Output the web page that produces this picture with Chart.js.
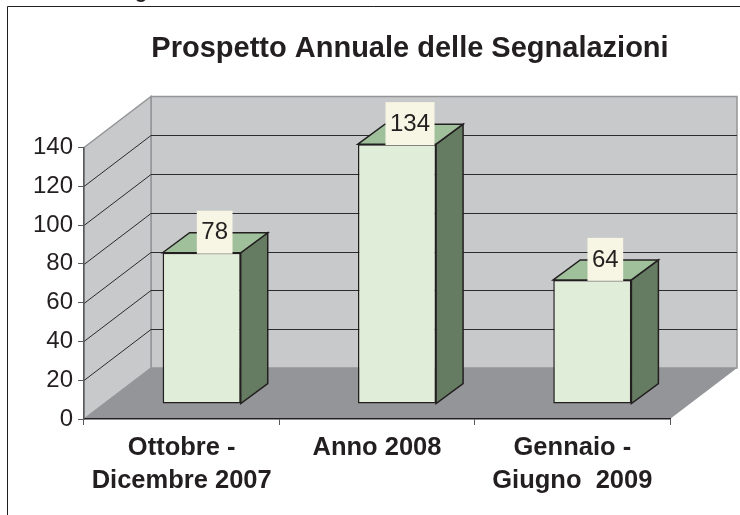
<!DOCTYPE html>
<html>
<head>
<meta charset="utf-8">
<style>
  html, body { margin: 0; padding: 0; background: #fff; }
  #wrap { width: 740px; height: 515px; }
</style>
<script src="https://cdn.jsdelivr.net/npm/chart.js@4"></script>
</head>
<body>
<div id="wrap"><canvas id="chart" width="740" height="515"></canvas></div>
<script>
const categories = [['Ottobre -', 'Dicembre 2007'], 'Anno 2008', ['Gennaio -', 'Giugno  2009']];
const values = [78, 134, 64];
const tickValues = [0, 20, 40, 60, 80, 100, 120, 140];

const ink = '#231f20';
const wallColor = '#c8c9cb';
const wallEdge = '#939598';
const floorColor = '#949598';
const barFront = '#e0eed9';
const barTop = '#a0c09c';
const barSide = '#657c62';
const labelBox = '#f7f5e3';

// wall depth and how far the bars sit in front of the back wall
const depth = { x: 67, y: 51 };
const barShift = { x: 20, y: 15 };
const barDepth = { x: 27, y: 20 };

function poly(ctx, pts, fill, stroke, width) {
    ctx.beginPath();
    pts.forEach((p, i) => i ? ctx.lineTo(p[0], p[1]) : ctx.moveTo(p[0], p[1]));
    ctx.closePath();
    if (fill) { ctx.fillStyle = fill; ctx.fill(); }
    if (stroke) { ctx.strokeStyle = stroke; ctx.lineWidth = width; ctx.lineJoin = 'miter'; ctx.stroke(); }
}

const box3d = {
    id: 'box3d',
    afterLayout(chart) {
        // title is centred over the back wall, not over the canvas
        chart.titleBlock.left = 150;
        chart.titleBlock.right = 670;
    },
    beforeDraw(chart) {
        const { ctx, chartArea: a, scales: { y } } = chart;
        const dx = depth.x, dy = depth.y;
        ctx.save();
        ctx.fillStyle = '#fff';
        ctx.fillRect(0, 0, chart.width, chart.height);

        // outer frame, cut off by the right and bottom of the picture
        ctx.strokeStyle = ink;
        ctx.lineWidth = 1;
        ctx.beginPath();
        ctx.moveTo(7.5, chart.height);
        ctx.lineTo(7.5, 6.5);
        ctx.lineTo(chart.width, 6.5);
        ctx.stroke();

        // tail of a heading cut off by the top of the picture
        ctx.fillStyle = ink;
        ctx.font = 'bold 20px "Liberation Sans"';
        ctx.textAlign = 'center';
        ctx.fillText('g', 141, -2);

        const l = a.left, r = a.right, t = a.top, b = a.bottom;
        poly(ctx, [[l + dx, t - dy], [r + dx, t - dy], [r + dx, b - dy], [l + dx, b - dy]], wallColor, wallEdge, 1.5);
        poly(ctx, [[l, t], [l + dx, t - dy], [l + dx, b - dy], [l, b]], wallColor, wallEdge, 1.5);
        poly(ctx, [[l, b], [l + dx, b - dy], [r + dx, b - dy], [r, b]], floorColor);

        ctx.strokeStyle = '#2b2b2d';
        ctx.lineWidth = 1;
        tickValues.forEach(v => {
            if (v === 0 || v === 140) return;
            const py = Math.round(y.getPixelForValue(v)) + 0.5;
            ctx.beginPath();
            ctx.moveTo(l, py);
            ctx.lineTo(l + dx, py - dy);
            ctx.lineTo(r + dx, py - dy);
            ctx.stroke();
        });
        ctx.restore();
    },
    beforeDatasetDraw(chart) {
        chart.ctx.save();
        chart.ctx.translate(barShift.x, -barShift.y);
    },
    afterDatasetDraw(chart, args) {
        const ctx = chart.ctx;
        args.meta.data.forEach(bar => {
            const p = bar.getProps(['x', 'y', 'base', 'width'], true);
            const x1 = p.x + p.width / 2, x0 = p.x - p.width / 2;
            const ddx = barDepth.x, ddy = barDepth.y;
            poly(ctx, [[x1, p.y], [x1 + ddx, p.y - ddy], [x1 + ddx, p.base - ddy], [x1, p.base]], barSide, ink, 1.5);
            poly(ctx, [[x0, p.y], [x0 + ddx, p.y - ddy], [x1 + ddx, p.y - ddy], [x1, p.y]], barTop, ink, 1.5);
        });
        ctx.restore();

        // value labels on a pale box over the top of each bar
        ctx.save();
        ctx.font = '24px "Liberation Sans"';
        ctx.textAlign = 'center';
        ctx.textBaseline = 'middle';
        args.meta.data.forEach((bar, i) => {
            const p = bar.getProps(['x', 'y'], true);
            const cx = p.x + barShift.x + 13, top = p.y - barShift.y;
            const text = String(values[i]);
            const w = ctx.measureText(text).width + 9;
            ctx.fillStyle = labelBox;
            ctx.fillRect(cx - w / 2, top - 42, w, 43);
            ctx.fillStyle = ink;
            ctx.fillText(text, cx, top - 20);
        });
        ctx.restore();
    }
};

new Chart(document.getElementById('chart'), {
    type: 'bar',
    data: {
        labels: categories,
        datasets: [{
            data: values,
            backgroundColor: barFront,
            borderColor: ink,
            borderWidth: 1.5,
            borderSkipped: false,
            barPercentage: 0.4,
            categoryPercentage: 1
        }]
    },
    options: {
        responsive: false,
        animation: false,
        layout: { padding: { left: 0, right: 70, top: 0, bottom: 0 } },
        plugins: {
            legend: { display: false },
            tooltip: { enabled: false },
            title: {
                display: true,
                text: 'Prospetto Annuale delle Segnalazioni',
                color: ink,
                font: { family: '"Liberation Sans"', size: 29, weight: 'bold', lineHeight: 1.2 },
                padding: { top: 32, bottom: 80.7 }
            }
        },
        scales: {
            x: {
                offset: true,
                afterFit(scale) { scale.height = 96; },
                grid: { drawOnChartArea: false, tickLength: 6, tickColor: '#58595b', offset: true },
                border: { color: ink, width: 1.5 },
                ticks: {
                    color: ink,
                    maxRotation: 0,
                    autoSkip: false,
                    padding: 6,
                    font: { family: '"Liberation Sans"', size: 25.5, weight: 'bold', lineHeight: 1.3 }
                }
            },
            y: {
                min: 0,
                max: 140,
                afterFit(scale) { scale.width = 84; },
                grid: { drawOnChartArea: false, tickLength: 6, tickColor: '#58595b' },
                border: { color: '#58595b', width: 1.5 },
                ticks: {
                    stepSize: 20,
                    color: ink,
                    padding: 5,
                    font: { family: '"Liberation Sans"', size: 24 }
                }
            }
        }
    },
    plugins: [box3d]
});
</script>
</body>
</html>
